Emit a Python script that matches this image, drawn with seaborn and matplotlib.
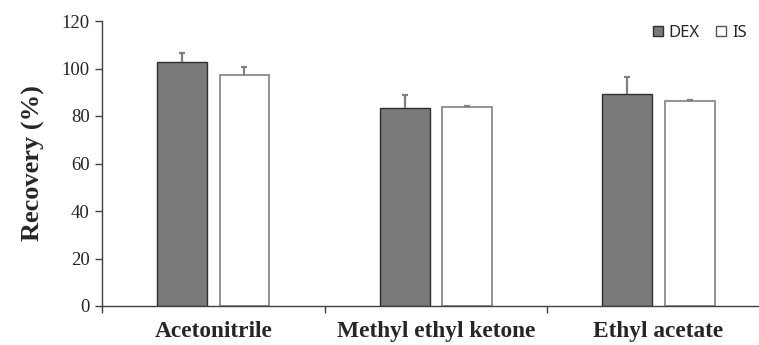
import matplotlib
matplotlib.use("Agg")
import matplotlib.pyplot as plt
import seaborn as sns
import pandas as pd
from matplotlib.patches import Patch

categories = ["Acetonitrile", "Methyl ethyl ketone", "Ethyl acetate"]
series = ["DEX", "IS"]
dex_values = [102.6, 83.3, 89.2]
dex_err = [3.9, 5.5, 7.2]
is_values = [97.2, 83.8, 86.3]
is_err = [3.4, 0.5, 0.3]
yticks = [0, 20, 40, 60, 80, 100, 120]

df = pd.DataFrame({
    "Solvent": categories * 2,
    "Series": [series[0]] * 3 + [series[1]] * 3,
    "Recovery": dex_values + is_values,
    "Err": dex_err + is_err,
})

sns.set_theme(style="white")
fig = plt.figure(figsize=(7.59, 3.45), dpi=100)
ax = fig.add_axes([102 / 759, 39 / 345, 1 - 102 / 759 + 0.02, 285 / 345])

dex_face = "#7a7a7a"
palette = {"DEX": dex_face, "IS": "white"}
sns.barplot(data=df, x="Solvent", y="Recovery", hue="Series", order=categories,
            hue_order=series, palette=palette, width=0.56, gap=0.2,
            errorbar=None, legend=False, ax=ax, saturation=1)

# style bars and add upper-only error bars
for container, name in zip(ax.containers, series):
    errs = df[df["Series"] == name]["Err"].tolist()
    vals = df[df["Series"] == name]["Recovery"].tolist()
    xs = []
    for bar in container:
        if name == "DEX":
            bar.set_edgecolor("#2e2e2e")
            bar.set_linewidth(1.0)
        else:
            bar.set_edgecolor("#8a8a8a")
            bar.set_linewidth(1.3)
        xs.append(bar.get_x() + bar.get_width() / 2)
    eb = ax.errorbar(xs, vals, yerr=[[0] * len(errs), errs], fmt="none",
                     ecolor="#808080", elinewidth=1.6, capsize=2.4, capthick=1.6, zorder=3)
    caps = eb[1]
    if len(caps) == 2:
        caps[0].set_visible(False)

ax.set_xlim(-0.5, 2.52)
ax.set_ylim(0, 120)
ax.set_yticks(yticks)
ax.set_xticks([-0.5, 0.5, 1.5])
ax.set_xticklabels([])
ax.set_xlabel("")
for i, c in enumerate(categories):
    ax.text(i, -10.8, c, ha="center", va="center", fontsize=16.8,
            fontweight="bold", family="Liberation Serif", transform=ax.transData)
ax.set_yticklabels([str(t) for t in yticks], family="Liberation Serif", fontsize=13.5)
ax.set_ylabel("Recovery (%)", family="Liberation Serif", fontweight="bold",
              fontsize=19, labelpad=12)

for s in ["top", "right"]:
    ax.spines[s].set_visible(False)
for s in ["left", "bottom"]:
    ax.spines[s].set_color("#404040")
    ax.spines[s].set_linewidth(1.0)
ax.tick_params(axis="both", direction="out", length=5, width=1.0, color="#404040",
               left=True, bottom=True, pad=4)

handles = [Patch(facecolor=dex_face, edgecolor="#2e2e2e", label="DEX"),
           Patch(facecolor="white", edgecolor="#555555", label="IS")]
leg = ax.legend(handles=handles, loc="center right",
                bbox_to_anchor=(747 / 759, 1 - 33 / 345), bbox_transform=fig.transFigure,
                ncol=2, frameon=False, prop={"family": "Noto Sans", "size": 12},
                handlelength=0.6, handleheight=0.6, handletextpad=0.36,
                columnspacing=1.0, borderaxespad=0, borderpad=0)

fig.savefig("out.png", dpi=100)
